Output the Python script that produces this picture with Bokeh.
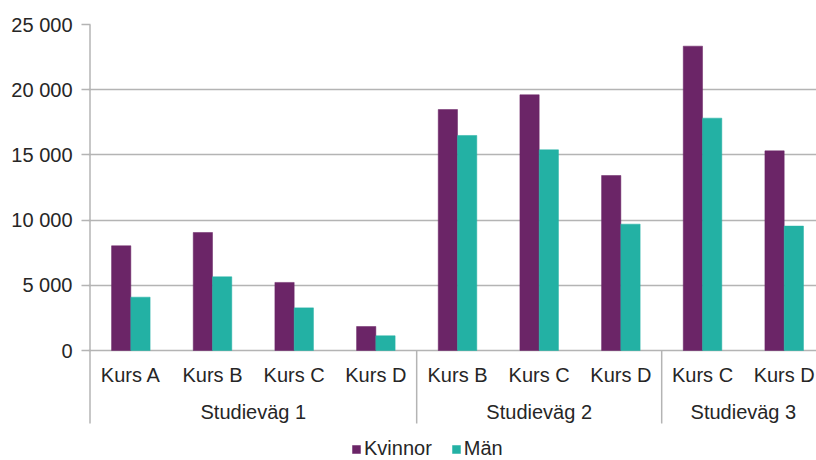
from bokeh.plotting import figure
from bokeh.models import (Range1d, FixedTicker, Legend, LegendItem, ColumnDataSource)
from bokeh.core.properties import value
from bokeh.embed import file_html
from bokeh.resources import INLINE

# ---- data ----
courses = ["Kurs A", "Kurs B", "Kurs C", "Kurs D", "Kurs B", "Kurs C", "Kurs D", "Kurs C", "Kurs D"]
paths = ["Studieväg 1", "Studieväg 2", "Studieväg 3"]
path_sizes = [4, 3, 2]
kvinnor = [8030, 9050, 5220, 1840, 18480, 19610, 13420, 23340, 15310]
man = [4090, 5650, 3270, 1130, 16490, 15390, 9690, 17820, 9540]
y_ticks = [0, 5000, 10000, 15000, 20000, 25000]
y_labels = ["0", "5 000", "10 000", "15 000", "20 000", "25 000"]

PURPLE = "#6b2567"
TEAL = "#23b1a4"
GRID = "#b4b4b4"
TEXT = "#262626"
FONT = "Liberation Sans"

# ---- layout constants (pixels) ----
W, H = 816, 460
LEFT, TOP = 88, 24
PLOT_H = 326                 # pixels from 0 to y max
SLOT = 81.67                 # pixels per category
YMAX = y_ticks[-1]
UPP = YMAX / PLOT_H          # data units per pixel (y)
SEP_LEN = 73                 # separator length below axis, px

frame_w = W - LEFT
frame_h = H - TOP
x_start = -1.5 / SLOT
x_end = x_start + frame_w / SLOT
y_start = -(frame_h - PLOT_H) * UPP

n = len(courses)
centers = [i + 0.5 for i in range(n)]
bw = 0.236
src = ColumnDataSource(dict(
    xk=[c - bw / 2 for c in centers],
    xm=[c + bw / 2 for c in centers],
    k=kvinnor, m=man,
))

bounds = [0]
for s in path_sizes:
    bounds.append(bounds[-1] + s)
group_centers = [(bounds[i] + bounds[i + 1]) / 2 for i in range(len(paths))]

p = figure(width=W, height=H, frame_width=frame_w, frame_height=frame_h,
           min_border_left=LEFT, min_border_right=0, min_border_top=TOP, min_border_bottom=0,
           x_range=Range1d(x_start, x_end), y_range=Range1d(y_start, YMAX),
           x_axis_type=None, output_backend="svg", toolbar_location=None)
p.outline_line_color = None
p.xgrid.visible = False
p.ygrid.grid_line_color = GRID
p.ygrid.grid_line_width = 1.5
p.ygrid.ticker = FixedTicker(ticks=y_ticks)

rk = p.vbar(x="xk", top="k", width=bw, source=src, fill_color=PURPLE, line_color=PURPLE, line_width=0.5)
rm = p.vbar(x="xm", top="m", width=bw, source=src, fill_color=TEAL, line_color=TEAL, line_width=0.5)

# y axis (line drawn as a segment together with the left separator)
ya = p.yaxis[0]
ya.ticker = FixedTicker(ticks=y_ticks)
ya.major_label_overrides = {t: l for t, l in zip(y_ticks, y_labels)}
ya.axis_line_color = None
ya.major_tick_line_color = GRID
ya.major_tick_line_width = 1.5
ya.major_tick_out = 7
ya.major_tick_in = 2
ya.minor_tick_line_color = None
ya.major_label_standoff = 9
ya.major_label_text_font = FONT
ya.major_label_text_font_size = "20px"
ya.major_label_text_color = TEXT

# left axis line + group separators below the category axis
sep_x = bounds[:-1]
sep_top = [YMAX] + [0] * (len(sep_x) - 1)
p.segment(x0=sep_x, y0=sep_top, x1=sep_x, y1=[-SEP_LEN * UPP] * len(sep_x),
          line_color=GRID, line_width=1.5)

# course labels
p.text(x=centers, y=[0] * n, text=courses, y_offset=24.7,
       text_align="center", text_baseline="alphabetic",
       text_font=value(FONT), text_font_size="20px", text_color=TEXT)
# path labels
p.text(x=group_centers, y=[0] * len(paths), text=paths, y_offset=61,
       text_align="center", text_baseline="alphabetic",
       text_font=value(FONT), text_font_size="20px", text_color=TEXT)

legend = Legend(items=[LegendItem(label="Kvinnor", renderers=[rk]),
                       LegendItem(label="Män", renderers=[rm])],
                location=(263, 0), orientation="horizontal",
                glyph_width=10, glyph_height=10, label_standoff=3, spacing=19,
                padding=0, margin=0, border_line_color=None, background_fill_alpha=0,
                label_text_font=FONT, label_text_font_size="20px", label_text_color=TEXT)
p.add_layout(legend, "center")

open("out.html", "w").write(file_html(p, INLINE))
